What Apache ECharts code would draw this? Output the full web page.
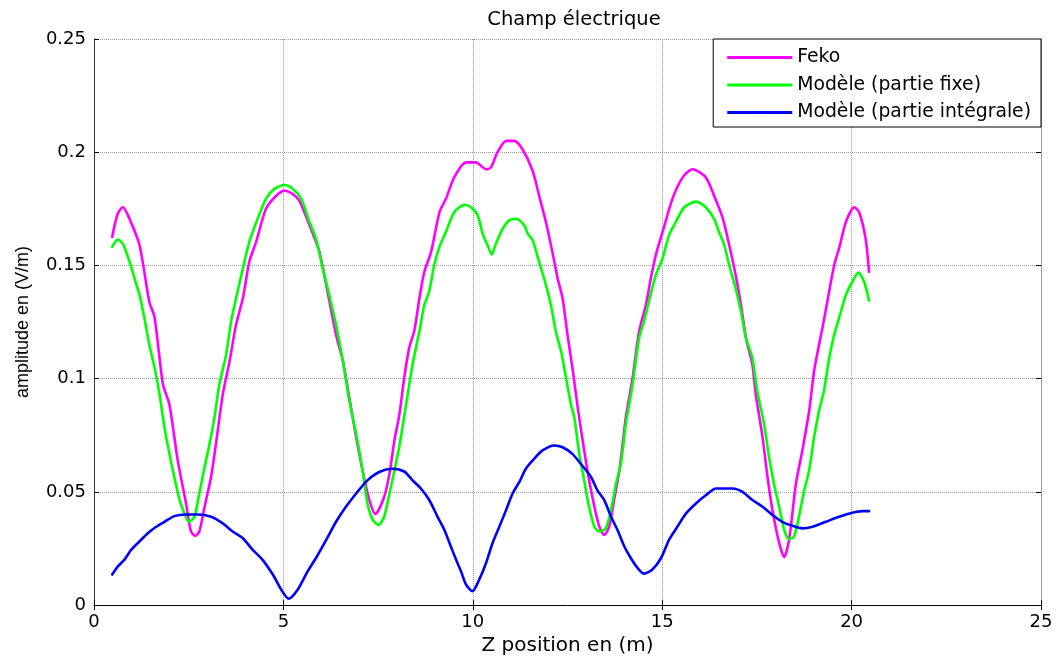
<!DOCTYPE html>
<html>
<head>
<meta charset="utf-8">
<script src="https://cdn.jsdelivr.net/npm/echarts@6/dist/echarts.min.js"></script>
<style>
html,body{margin:0;padding:0;background:#fff;}
#chart{width:1056px;height:661px;}
</style>
</head>
<body>
<div id="chart"></div>
<script>
const chartTitle = 'Champ électrique';
const xAxisName = 'Z position en (m)';
const yAxisName = 'amplitude en (V/m)';
const seriesNames = ['Feko', 'Modèle (partie fixe)', 'Modèle (partie intégrale)'];
const xTicks = [0, 5, 10, 15, 20, 25];
const yTicks = [0, 0.05, 0.1, 0.15, 0.2, 0.25];

const fekoData = [
[0.48,0.1626],[0.62,0.1725],[0.76,0.1757],[0.9,0.172],[1.2,0.159],[1.46,0.134],[1.6,0.127],[1.82,0.0975],[1.99,0.0887],[2.21,0.0639],[2.43,0.0449],[2.56,0.0325],[2.68,0.0306],[2.78,0.0325],[2.92,0.0434],[3.09,0.0566],[3.22,0.0712],[3.4,0.0931],[3.58,0.1078],[3.75,0.1238],[3.93,0.1355],[4.1,0.1516],[4.28,0.1604],[4.54,0.175],[4.81,0.1808],[5.03,0.183],[5.25,0.1815],[5.42,0.1786],[5.69,0.1677],[5.95,0.156],[6.13,0.1414],[6.39,0.1194],[6.57,0.1078],[6.74,0.0917],[6.92,0.0741],[7.09,0.0595],[7.27,0.0464],[7.43,0.0402],[7.66,0.0478],[7.8,0.058],[7.93,0.0727],[8.06,0.084],[8.19,0.1004],[8.32,0.1136],[8.46,0.1215],[8.59,0.1355],[8.72,0.1472],[8.9,0.156],[9.12,0.1735],[9.29,0.1794],[9.51,0.1889],[9.82,0.1955],[10.08,0.1955],[10.35,0.1925],[10.48,0.1933],[10.65,0.1999],[10.88,0.205],[11.09,0.205],[11.31,0.2013],[11.58,0.1918],[11.75,0.1808],[11.93,0.1692],[12.1,0.156],[12.24,0.1443],[12.37,0.1355],[12.5,0.1194],[12.63,0.1048],[12.77,0.0873],[12.9,0.0727],[13.07,0.0551],[13.21,0.0434],[13.34,0.0346],[13.47,0.031],[13.6,0.0346],[13.73,0.0464],[13.87,0.0595],[14.04,0.0829],[14.22,0.1004],[14.39,0.1209],[14.57,0.1326],[14.7,0.1443],[14.83,0.1545],[15.01,0.1648],[15.27,0.1794],[15.54,0.1889],[15.8,0.1925],[16.15,0.1889],[16.37,0.1808],[16.59,0.1713],[16.77,0.1589],[16.94,0.1457],[17.08,0.1326],[17.21,0.118],[17.38,0.1063],[17.47,0.0931],[17.65,0.0741],[17.78,0.0566],[17.91,0.042],[18.09,0.0273],[18.22,0.0212],[18.35,0.0288],[18.53,0.0536],[18.7,0.0683],[18.88,0.0858],[19.01,0.1034],[19.14,0.115],[19.23,0.1224],[19.36,0.1341],[19.54,0.1501],[19.67,0.1575],[19.85,0.1692],[20.07,0.1757],[20.2,0.1735],[20.37,0.1618],[20.46,0.1472]
];

const fixeData = [
[0.48,0.1582],[0.63,0.1614],[0.76,0.1596],[0.94,0.1516],[1.07,0.1443],[1.2,0.137],[1.33,0.1268],[1.46,0.115],[1.6,0.1048],[1.73,0.0931],[1.86,0.0785],[1.99,0.0668],[2.12,0.0566],[2.26,0.0464],[2.39,0.0405],[2.5,0.0368],[2.65,0.039],[2.78,0.0493],[2.92,0.061],[3.05,0.0712],[3.18,0.0829],[3.31,0.0975],[3.49,0.1107],[3.62,0.1253],[3.75,0.1355],[3.93,0.1487],[4.1,0.1604],[4.32,0.1706],[4.54,0.1794],[4.76,0.1838],[5.03,0.1855],[5.25,0.1838],[5.47,0.1794],[5.69,0.1692],[5.86,0.1618],[6.04,0.1487],[6.21,0.137],[6.39,0.1238],[6.57,0.1078],[6.74,0.0902],[6.92,0.0756],[7.09,0.0595],[7.22,0.0449],[7.36,0.0376],[7.51,0.0354],[7.66,0.039],[7.8,0.0493],[7.93,0.0595],[8.06,0.07],[8.24,0.0887],[8.41,0.1063],[8.59,0.1209],[8.72,0.1326],[8.85,0.1385],[8.98,0.1501],[9.12,0.1582],[9.29,0.1648],[9.51,0.1735],[9.78,0.1768],[9.95,0.1757],[10.13,0.1721],[10.26,0.164],[10.39,0.1589],[10.5,0.1548],[10.61,0.1596],[10.79,0.1662],[10.96,0.1699],[11.14,0.1706],[11.36,0.1677],[11.45,0.164],[11.58,0.1611],[11.75,0.1516],[11.93,0.1414],[12.06,0.1326],[12.19,0.1209],[12.33,0.1121],[12.46,0.1004],[12.59,0.0887],[12.68,0.0829],[12.81,0.0668],[12.94,0.0551],[13.07,0.0434],[13.21,0.0346],[13.34,0.0325],[13.51,0.0339],[13.65,0.042],[13.78,0.0536],[13.91,0.0624],[14.04,0.08],[14.22,0.0975],[14.39,0.118],[14.52,0.1253],[14.65,0.1341],[14.83,0.1457],[15.01,0.1531],[15.18,0.1633],[15.36,0.1692],[15.58,0.1757],[15.89,0.1782],[16.15,0.1757],[16.37,0.1706],[16.5,0.1648],[16.64,0.1589],[16.77,0.1501],[16.94,0.1399],[17.08,0.1297],[17.21,0.118],[17.38,0.1092],[17.51,0.0946],[17.69,0.08],[17.82,0.0654],[17.95,0.0536],[18.09,0.0434],[18.22,0.0332],[18.35,0.0291],[18.48,0.0303],[18.61,0.039],[18.75,0.0507],[18.88,0.0595],[19.01,0.0741],[19.14,0.0858],[19.27,0.0946],[19.41,0.1092],[19.54,0.1194],[19.67,0.1268],[19.85,0.137],[20.02,0.1428],[20.18,0.1469],[20.33,0.1428],[20.46,0.1344]
];

const integraleData = [
[0.48,0.0135],[0.63,0.0171],[0.8,0.02],[0.98,0.0244],[1.2,0.0281],[1.42,0.0317],[1.64,0.0346],[1.86,0.0368],[2.12,0.0393],[2.43,0.04],[2.74,0.04],[3.09,0.039],[3.4,0.0361],[3.66,0.0325],[3.93,0.0295],[4.19,0.0244],[4.45,0.02],[4.72,0.0135],[4.94,0.0069],[5.14,0.0028],[5.38,0.0069],[5.64,0.0149],[5.86,0.0208],[6.13,0.0288],[6.39,0.0368],[6.65,0.0434],[6.92,0.0493],[7.22,0.0551],[7.53,0.0588],[7.88,0.0602],[8.19,0.059],[8.41,0.0551],[8.63,0.0515],[8.85,0.0464],[9.07,0.039],[9.25,0.0332],[9.42,0.0259],[9.56,0.02],[9.69,0.0149],[9.82,0.0091],[9.99,0.0061],[10.17,0.0113],[10.35,0.0186],[10.52,0.0273],[10.7,0.0346],[10.88,0.042],[11.05,0.0493],[11.23,0.0544],[11.4,0.0602],[11.62,0.0646],[11.84,0.0683],[12.15,0.0705],[12.37,0.0697],[12.63,0.0668],[12.85,0.0624],[13.12,0.0566],[13.29,0.0507],[13.47,0.0464],[13.65,0.039],[13.82,0.0332],[14.0,0.0259],[14.17,0.0208],[14.35,0.0164],[14.52,0.0139],[14.74,0.0157],[14.97,0.0208],[15.18,0.0288],[15.4,0.0346],[15.63,0.0405],[15.89,0.0449],[16.15,0.0485],[16.42,0.0515],[16.86,0.0515],[17.12,0.05],[17.38,0.0464],[17.65,0.0434],[17.91,0.0398],[18.17,0.0368],[18.44,0.035],[18.7,0.0339],[18.97,0.0346],[19.32,0.0368],[19.67,0.039],[20.02,0.0408],[20.28,0.0415],[20.46,0.0415]
];

const seriesColors = ['#ff00ff', '#00ff00', '#0000ff'];
const seriesData = [fekoData, fixeData, integraleData];

const chart = echarts.init(document.getElementById('chart'), null, {renderer: 'canvas'});
const gridFont = 'DejaVu Sans';
const option = {
  animation: false,
  backgroundColor: '#fff',
  title: {
    text: chartTitle, left: 569, top: 5, textAlign: 'center',
    textStyle: {fontFamily: gridFont, fontSize: 19.5, fontWeight: 'normal', color: '#000'}
  },
  legend: {
    orient: 'vertical', right: 15, top: 39,
    padding: [9, 10, 5, 14],
    itemGap: 8.5, itemWidth: 65, itemHeight: 18,
    borderColor: '#000', borderWidth: 1, borderRadius: 0, backgroundColor: '#fff',
    textStyle: {fontFamily: gridFont, fontSize: 18.8, color: '#000', padding: [0,0,0,0]},
    data: seriesNames.map((n, i) => ({name: n, icon: 'path://M0,0 L65,0 L65,3 L0,3 Z', itemStyle: {color: seriesColors[i]}}))
  },
  grid: {left: 94, right: 15, top: 39, bottom: 52, containLabel: false},
  xAxis: [{
    type: 'value', min: 0, max: 25, interval: 5, position: 'bottom',
    name: xAxisName, nameLocation: 'middle', nameGap: 29,
    nameTextStyle: {fontFamily: gridFont, fontSize: 20, color: '#000'},
    axisLine: {show: true, onZero: false, lineStyle: {color: '#000', width: 1}},
    axisTick: {show: true, inside: true, length: 5, lineStyle: {color: '#000'}},
    axisLabel: {fontFamily: gridFont, fontSize: 18, color: '#000', margin: 8},
    splitLine: {show: true, lineStyle: {color: '#999', type: [1, 1], width: 1}}
  }, {
    type: 'value', min: 0, max: 25, interval: 5, position: 'top',
    axisLine: {show: false},
    axisTick: {show: true, inside: true, length: 5, lineStyle: {color: '#000'}},
    axisLabel: {show: false}, splitLine: {show: false}
  }],
  yAxis: [{
    type: 'value', min: 0, max: 0.25, interval: 0.05, position: 'left',
    name: yAxisName, nameLocation: 'middle', nameGap: 62, nameRotate: 90,
    nameTextStyle: {fontFamily: 'Liberation Sans', fontSize: 18, color: '#000'},
    axisLine: {show: true, onZero: false, lineStyle: {color: '#333', width: 1}},
    axisTick: {show: true, inside: true, length: 5, lineStyle: {color: '#000'}},
    axisLabel: {fontFamily: gridFont, fontSize: 18, color: '#000', margin: 8,
      formatter: v => String(Math.round(v * 100) / 100)},
    splitLine: {show: true, lineStyle: {color: '#999', type: [1, 1], width: 1}}
  }, {
    type: 'value', min: 0, max: 0.25, interval: 0.05, position: 'right',
    axisLine: {show: true, onZero: false, lineStyle: {color: '#999', width: 1}},
    axisTick: {show: true, inside: true, length: 5, lineStyle: {color: '#000'}},
    axisLabel: {show: false}, splitLine: {show: false}
  }],
  series: seriesNames.map((n, i) => ({
    name: n, type: 'line', data: seriesData[i], xAxisIndex: 0, yAxisIndex: 0,
    showSymbol: false, symbol: 'none', smooth: 0.25,
    lineStyle: {color: seriesColors[i], width: 2.6, join: 'round', cap: 'round'},
    itemStyle: {color: seriesColors[i]}
  }))
};
chart.setOption(option);
</script>
</body>
</html>
